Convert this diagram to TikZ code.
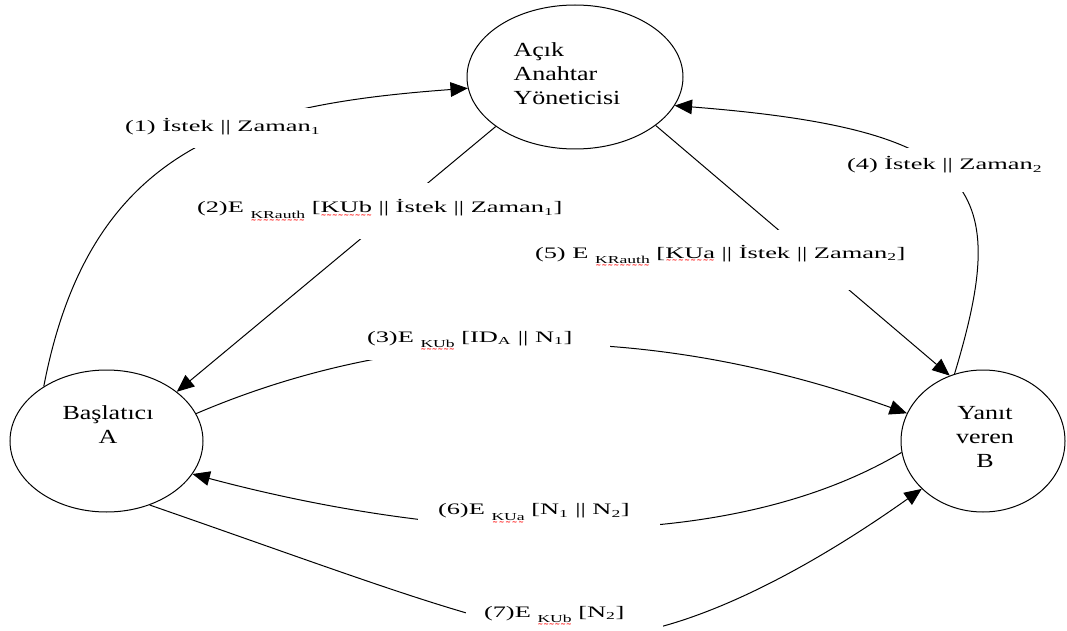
\documentclass[tikz,border=0pt]{standalone}
\usepackage{fontspec}
\setmainfont{Liberation Serif}[FakeStretch=1.3]
\newfontfamily\lblfont{Liberation Serif}[FakeStretch=1.65]
\newfontfamily\wavefont{DejaVu Sans}
\usetikzlibrary{arrows.meta,shapes.geometric}

% red wavy underline (spell-check mark)
\newsavebox{\spellbox}
\newcommand{\spell}[1]{\sbox{\spellbox}{#1}%
  \rlap{\lower3.4pt\hbox to\wd\spellbox{\color{red}\wavefont\bfseries\fontsize{5}{5}\selectfont
    \xleaders\hbox{\char"7E}\hfil}}\usebox{\spellbox}}
% lowered, small key name after E
\newcommand{\keysub}[1]{\lower4pt\hbox{\fontsize{8}{8}\selectfont\spell{#1}}}
% message text placed inside its white text box: width, left offset, raise, text
\newcommand{\msg}[4]{\makebox[#1][l]{\hspace*{#2}\raisebox{#3}[0pt][0pt]{#4}}}

\begin{document}
\begin{tikzpicture}[x=0.75pt,y=-0.75pt,
  ell/.style={draw,ellipse,line width=0.75pt,inner sep=0pt},
  etext/.style={font=\fontsize{15}{18}\selectfont,inner sep=0pt},
  arr/.style={line width=0.75pt,-{Triangle[length=13pt,width=11pt]}},
  lbl/.style={fill=white,inner sep=0pt,font=\lblfont\fontsize{12}{14}\selectfont}]
\useasboundingbox (0,0) rectangle (1067,631);

% parties
\node[ell,minimum width=162pt,minimum height=108pt] (K) at (575,77) {};
\node[etext,align=left] (Kt) at (567,74) {Açık\\Anahtar\\Yöneticisi};
\node[ell,minimum width=144.75pt,minimum height=106.5pt] (A) at (106.5,441) {};
\node[etext,align=center] (At) at (108,425) {Başlatıcı\\A};
\node[ell,minimum width=123pt,minimum height=106.5pt] (B) at (983,441) {};
\node[etext,align=center] (Bt) at (985,437) {Yanıt\\veren\\B};

% messages
\draw[arr] (A.139) .. controls (90,145) and (240,105) .. (K.186);
\draw[arr] (K.212) -- (A.35);
\draw[arr] (A.17) .. controls (420,318) and (660,325) .. (B.160);
\draw[arr] (B.113) .. controls (1010,190) and (985,130) .. (K.344);
\draw[arr] (K.329) -- (B.117);
\draw[arr] (B.188) .. controls (720,560) and (440,540) .. (A.339);
\draw[arr] (A.304) .. controls (360,578) and (480,625) .. (570,636)
                   .. controls (660,647) and (792,581) .. (B.218);

% message labels in white text boxes
\node[lbl,minimum height=30pt] (L1) at (220,128)
  {\msg{153pt}{5.25pt}{-3pt}{(1) İstek || Zaman\textsubscript{1}}};
\node[lbl,minimum height=42pt] (L2) at (381,211)
  {\msg{286.5pt}{5.25pt}{-1.5pt}{(2)E \keysub{KRauth} [\spell{KUb} || İstek || Zaman\textsubscript{1}]}};
\node[lbl,minimum height=30pt] (L3) at (482.5,340)
  {\msg{191.25pt}{9pt}{-1.5pt}{(3)E \keysub{KUb} [ID\textsubscript{A} || N\textsubscript{1}]}};
\node[lbl,minimum height=33pt] (L4) at (953.5,170)
  {\msg{170.25pt}{5.25pt}{0pt}{(4) İstek || Zaman\textsubscript{2}}};
\node[lbl,minimum height=45pt] (L5) at (721.5,260)
  {\msg{290.25pt}{5.25pt}{1.5pt}{(5) E \keysub{KRauth} [\spell{KUa} || İstek || Zaman\textsubscript{2}]}};
\node[lbl,minimum height=33.75pt] (L6) at (539,517.5)
  {\msg{181.5pt}{15pt}{1.9pt}{(6)E \keysub{KUa} [N\textsubscript{1} || N\textsubscript{2}]}};
\node[lbl,minimum height=33pt] (L7) at (564.5,618)
  {\msg{147.75pt}{13.5pt}{0.75pt}{(7)E \keysub{KUb} [N\textsubscript{2}]}};
\end{tikzpicture}
\end{document}
